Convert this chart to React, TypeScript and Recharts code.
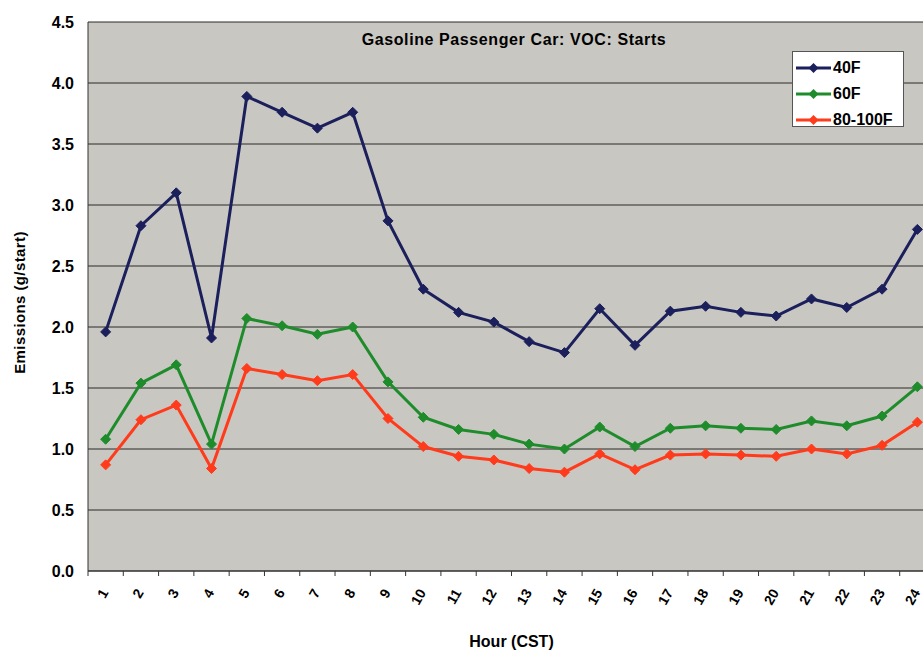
import React from 'react';
import { LineChart, Line, XAxis, YAxis, CartesianGrid, Legend } from 'recharts';

const hours = [1, 2, 3, 4, 5, 6, 7, 8, 9, 10, 11, 12, 13, 14, 15, 16, 17, 18, 19, 20, 21, 22, 23, 24];
const temp40F = [1.96, 2.83, 3.10, 1.91, 3.89, 3.76, 3.63, 3.76, 2.87, 2.31, 2.12, 2.04, 1.88, 1.79, 2.15, 1.85, 2.13, 2.17, 2.12, 2.09, 2.23, 2.16, 2.31, 2.80];
const temp60F = [1.08, 1.54, 1.69, 1.04, 2.07, 2.01, 1.94, 2.00, 1.55, 1.26, 1.16, 1.12, 1.04, 1.00, 1.18, 1.02, 1.17, 1.19, 1.17, 1.16, 1.23, 1.19, 1.27, 1.51];
const temp80F = [0.87, 1.24, 1.36, 0.84, 1.66, 1.61, 1.56, 1.61, 1.25, 1.02, 0.94, 0.91, 0.84, 0.81, 0.96, 0.83, 0.95, 0.96, 0.95, 0.94, 1.00, 0.96, 1.03, 1.22];
const yTicks = [0, 0.5, 1.0, 1.5, 2.0, 2.5, 3.0, 3.5, 4.0, 4.5];
const seriesNames = ['40F', '60F', '80-100F'];
const seriesColors = ['#1b1f5c', '#1f8c2c', '#ff3b1c'];

const title = 'Gasoline Passenger Car: VOC: Starts';
const xTitle = 'Hour (CST)';
const yTitle = 'Emissions (g/start)';

const data = hours.map((h, i) => ({ hour: h, f40: temp40F[i], f60: temp60F[i], f80: temp80F[i] }));
const xTickVals = hours.flatMap((h) => [h - 0.5, h]).concat([hours[hours.length - 1] + 0.5]);

const FONT = '"Liberation Sans", Arial, sans-serif';

const HourTick = (props: any) => {
  const { x, y, payload } = props;
  const v = payload.value;
  if (Number.isInteger(v)) {
    const ax = x - 1;
    const ay = y + 19;
    return (
      <text
        x={ax}
        y={ay}
        textAnchor="end"
        dy="0.35em"
        transform={`rotate(-60, ${ax}, ${ay})`}
        fontFamily={FONT}
        fontWeight="bold"
        fontSize={14}
        fill="#000"
      >
        {v}
      </text>
    );
  }
  return <line x1={x} y1={y} x2={x} y2={y + 5} stroke="#333" strokeWidth={1} />;
};

const makeDiamond = (color: string) => (props: any) => {
  const { cx, cy, index } = props;
  if (cx == null || cy == null) return <g key={index} />;
  const r = 5;
  return (
    <polygon
      key={index}
      points={`${cx},${cy - r} ${cx + r},${cy} ${cx},${cy + r} ${cx - r},${cy}`}
      fill={color}
      stroke={color}
      strokeWidth={1}
    />
  );
};

const LegendContent = (props: any) => {
  const payload = props.payload || [];
  return (
    <div
      style={{
        width: 112,
        height: 76,
        boxSizing: 'border-box',
        background: '#fff',
        border: '1px solid #555',
        paddingTop: 3,
      }}
    >
      {payload.map((entry: any, i: number) => (
        <div key={i} style={{ display: 'flex', alignItems: 'center', height: 26, lineHeight: '26px' }}>
          <svg width={40} height={12} style={{ marginLeft: 3 }}>
            <line x1={0} y1={6} x2={35} y2={6} stroke={entry.color} strokeWidth={3} />
            <polygon points="17.5,1 22.5,6 17.5,11 12.5,6" fill={entry.color} />
          </svg>
          <span style={{ fontFamily: FONT, fontWeight: 'bold', fontSize: 16, color: '#000', marginLeft: -3 }}>
            {entry.value}
          </span>
        </div>
      ))}
    </div>
  );
};

const YLabel = (props: any) => {
  const vb = props.viewBox || {};
  const cy = (vb.y || 0) + (vb.height || 0) / 2 + 6;
  const cx = 19;
  return (
    <text
      x={cx}
      y={cy}
      textAnchor="middle"
      dominantBaseline="central"
      transform={`rotate(-90, ${cx}, ${cy})`}
      fontFamily={FONT}
      fontWeight="bold"
      fontSize={15}
      letterSpacing={0.4}
      fill="#000"
    >
      {yTitle}
    </text>
  );
};

export default function App() {
  const keys = ['f40', 'f60', 'f80'];
  return (
    <div style={{ position: 'absolute', left: 0, top: 0, width: 923, height: 652, overflow: 'hidden', background: '#fff' }}>
      <LineChart width={945} height={652} data={data} margin={{ top: 22, right: 10, left: 0, bottom: 0 }}>
        <CartesianGrid horizontal={true} vertical={false} stroke="#2b2b2b" fill="#c9c7c1" fillOpacity={1} />
        <XAxis
          type="number"
          dataKey="hour"
          domain={[0.5, 24.5]}
          ticks={xTickVals}
          interval={0}
          tickLine={false}
          tickSize={0}
          tickMargin={0}
          axisLine={{ stroke: '#333' }}
          tick={<HourTick />}
          height={81}
          allowDataOverflow
          label={{ value: xTitle, position: 'insideBottom', offset: 5, fontFamily: FONT, fontWeight: 'bold', fontSize: 16, fill: '#000' }}
        />
        <YAxis
          type="number"
          domain={[0, 4.5]}
          ticks={yTicks}
          interval={0}
          width={88}
          tickLine={false}
          tickSize={0}
          tickMargin={14}
          axisLine={{ stroke: '#333' }}
          tickFormatter={(v: number) => v.toFixed(1)}
          tick={{ fontFamily: FONT, fontWeight: 'bold', fontSize: 16, fill: '#000' }}
          label={{ content: <YLabel /> }}
        />
        <Legend
          layout="horizontal"
          verticalAlign="middle"
          align="center"
          content={<LegendContent />}
          wrapperStyle={{ position: 'absolute', left: 792, top: 51, width: 112, height: 76 }}
        />
        {keys.map((k, i) => (
          <Line
            key={k}
            type="linear"
            dataKey={k}
            name={seriesNames[i]}
            stroke={seriesColors[i]}
            strokeWidth={3}
            dot={makeDiamond(seriesColors[i])}
            activeDot={false}
            isAnimationActive={false}
          />
        ))}
      </LineChart>
      <div
        style={{
          position: 'absolute',
          left: 264,
          width: 500,
          top: 31,
          textAlign: 'center',
          fontFamily: FONT,
          fontWeight: 'bold',
          fontSize: 16,
          letterSpacing: 0.6,
          lineHeight: '18px',
          color: '#000',
          pointerEvents: 'none',
        }}
      >
        {title}
      </div>
    </div>
  );
}
